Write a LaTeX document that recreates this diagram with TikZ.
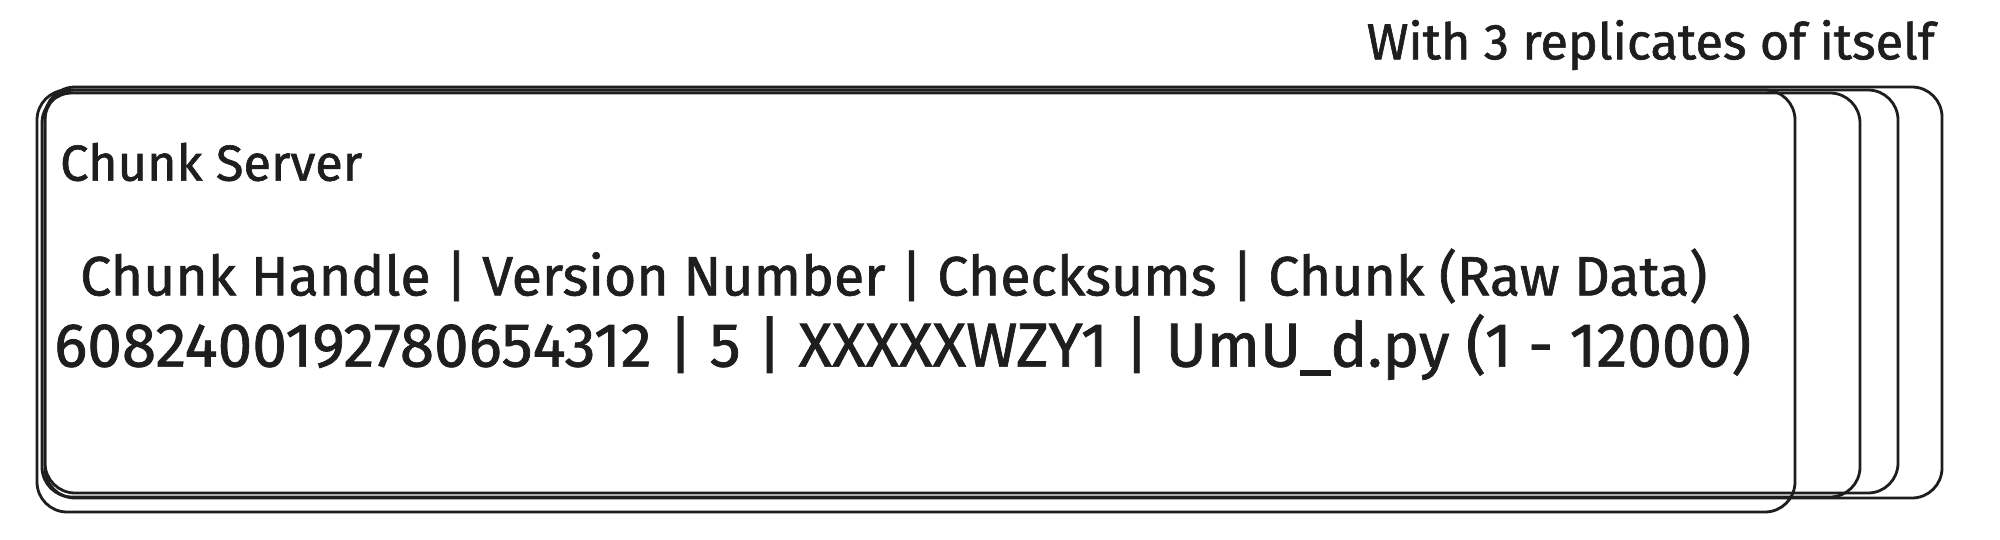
\documentclass[tikz,border=0pt]{standalone}
\usepackage{fontspec}
\setmainfont{Fira Sans}
\newfontfamily\hand[FakeBold=1.2]{Fira Sans}
\definecolor{ink}{HTML}{1E1E1E}
\begin{document}
\begin{tikzpicture}[x=1pt,y=-1pt,
  boxline/.style={draw=ink,line width=2.8pt,rounded corners=30pt},
  lbl/.style={text=ink,inner sep=0pt,anchor=west,font=\hand}]
\useasboundingbox[fill=white] (0,0) rectangle (2000,539);
\draw[boxline] (45,87) rectangle (1942,498);
\draw[boxline] (45,90) rectangle (1898,493);
\draw[boxline] (42,93) rectangle (1860,497);
\draw[boxline] (37,90) rectangle (1795,512);
\node[lbl,anchor=east] (rep) at (1935,45) {\resizebox{568pt}{!}{\fontsize{46}{50}\selectfont With 3 replicates of itself}};
\node[lbl] (title) at (60,162) {\resizebox{302pt}{!}{\fontsize{43}{48}\selectfont Chunk Server}};
\node[lbl] (hdr) at (80,276) {\resizebox{1627pt}{!}{\fontsize{58}{64}\selectfont Chunk Handle | Version Number | Checksums | Chunk (Raw Data)}};
\node[lbl] (row) at (54,347) {\resizebox{1697pt}{!}{\fontsize{60}{66}\selectfont 6082400192780654312 | 5 | XXXXXWZY1 | UmU\_d.py (1 - 12000)}};
\end{tikzpicture}
\end{document}
